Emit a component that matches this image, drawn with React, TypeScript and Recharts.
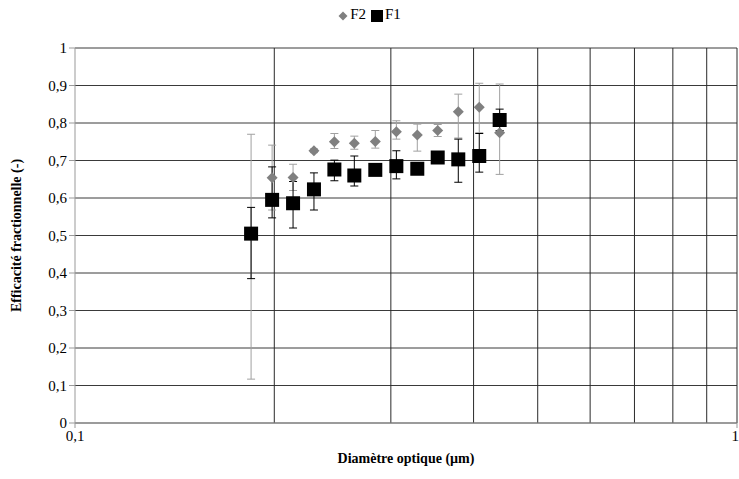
import React from 'react'
import {
  ScatterChart,
  Scatter,
  XAxis,
  YAxis,
  CartesianGrid,
  ReferenceLine,
  ErrorBar,
} from 'recharts'

// diamètres (µm)
const diameters = [
  0.1845, 0.1985, 0.2135, 0.2296, 0.2465, 0.2642, 0.2842, 0.3058, 0.3289,
  0.3531, 0.3793, 0.408, 0.438,
]

const f2Values = [
  0.5, 0.654, 0.655, 0.726, 0.75, 0.746, 0.751, 0.777, 0.768, 0.78, 0.83,
  0.842, 0.774,
]
// [écart bas, écart haut]
const f2Errors: [number, number][] = [
  [0.383, 0.27], [0.086, 0.087], [0.035, 0.035], [0.005, 0.005],
  [0.018, 0.022], [0.016, 0.019], [0.018, 0.029], [0.02, 0.029],
  [0.043, 0.029], [0.016, 0.016], [0.07, 0.047], [0.068, 0.064],
  [0.111, 0.13],
]

const f1Values = [
  0.505, 0.595, 0.586, 0.623, 0.676, 0.66, 0.675, 0.685, 0.678, 0.708, 0.703,
  0.712, 0.808,
]
const f1Errors: [number, number][] = [
  [0.12, 0.07], [0.048, 0.088], [0.066, 0.058], [0.055, 0.044],
  [0.03, 0.025], [0.028, 0.052], [0.005, 0.005], [0.034, 0.041],
  [0.015, 0.012], [0.005, 0.005], [0.061, 0.054], [0.043, 0.06],
  [0.028, 0.029],
]

const yTicks = [0, 0.1, 0.2, 0.3, 0.4, 0.5, 0.6, 0.7, 0.8, 0.9, 1]
const xTicks = [0.1, 1]
const xGrid = [0.2, 0.3, 0.4, 0.5, 0.6, 0.7, 0.8, 0.9, 1]

const f2Data = diameters.map((d, i) => ({ x: d, y: f2Values[i], err: f2Errors[i] }))
const f1Data = diameters.map((d, i) => ({ x: d, y: f1Values[i], err: f1Errors[i] }))

const FONT = "'Liberation Serif', 'Times New Roman', 'DejaVu Serif', serif"
const fmt = (v: number) => String(v).replace('.', ',')

function Diamond(props: any) {
  const { cx, cy } = props
  const r = 5.5
  return (
    <polygon
      points={`${cx},${cy - r} ${cx + r},${cy} ${cx},${cy + r} ${cx - r},${cy}`}
      fill="#808080"
    />
  )
}

function Square(props: any) {
  const { cx, cy } = props
  const s = 7
  return <rect x={cx - s} y={cy - s} width={s * 2} height={s * 2} fill="#000" />
}

export default function App() {
  return (
    <div style={{ position: 'absolute', left: 0, top: 0, width: 739, height: 479, background: '#fff', fontFamily: FONT }}>
      <style>{`svg text { font-family: ${FONT}; }`}</style>
      {/* légende */}
      <div
        style={{
          position: 'absolute',
          top: 6,
          left: 0,
          width: 739,
          textAlign: 'center',
          fontSize: 15,
          color: '#000',
          fontFamily: FONT,
        }}
      >
        <svg width={10} height={10} style={{ verticalAlign: 'middle', marginRight: 2 }}>
          <polygon points="5,0.5 9.5,5 5,9.5 0.5,5" fill="#808080" />
        </svg>
        F2
        <svg width={12} height={12} style={{ verticalAlign: 'middle', marginLeft: 5, marginRight: 2 }}>
          <rect x={0} y={0} width={12} height={12} fill="#000" />
        </svg>
        F1
      </div>

      <ScatterChart
        width={739}
        height={479}
        margin={{ top: 48, right: 2, bottom: 16, left: 30 }}
      >
        <CartesianGrid vertical={false} stroke="#3a3a3a" />
        {xGrid.map((v) => (
          <ReferenceLine key={v} x={v} stroke="#2a2a2a" strokeWidth={1} />
        ))}
        <XAxis
          dataKey="x"
          type="number"
          scale="log"
          domain={[0.1, 1]}
          ticks={xTicks}
          allowDataOverflow
          tickFormatter={fmt}
          tick={{ fill: '#000', fontSize: 15, fontFamily: FONT }}
          tickLine={{ stroke: '#999' }}
          tickSize={5}
          axisLine={{ stroke: '#999' }}
          height={40}
          label={{
            value: 'Diamètre optique (µm)',
            position: 'insideBottom',
            offset: 0,
            fill: '#000',
            fontSize: 14,
            fontWeight: 'bold',
            fontFamily: FONT,
          }}
        />
        <YAxis
          dataKey="y"
          type="number"
          domain={[0, 1]}
          ticks={yTicks}
          tickFormatter={fmt}
          tick={{ fill: '#000', fontSize: 15, fontFamily: FONT }}
          tickLine={{ stroke: '#999' }}
          tickSize={6}
          axisLine={{ stroke: '#999' }}
          width={45}
          label={{
            value: 'Efficacité fractionnelle (-)',
            angle: -90,
            position: 'insideLeft',
            offset: -14,
            style: { textAnchor: 'middle' },
            fill: '#000',
            fontSize: 14,
            fontWeight: 'bold',
            fontFamily: FONT,
          }}
        />
        <Scatter name="F2" data={f2Data} shape={<Diamond />} isAnimationActive={false}>
          <ErrorBar dataKey="err" direction="y" width={4} stroke="#a0a0a0" strokeWidth={1} />
        </Scatter>
        <Scatter name="F1" data={f1Data} shape={<Square />} isAnimationActive={false}>
          <ErrorBar dataKey="err" direction="y" width={4} stroke="#000" strokeWidth={1} />
        </Scatter>
      </ScatterChart>
    </div>
  )
}
